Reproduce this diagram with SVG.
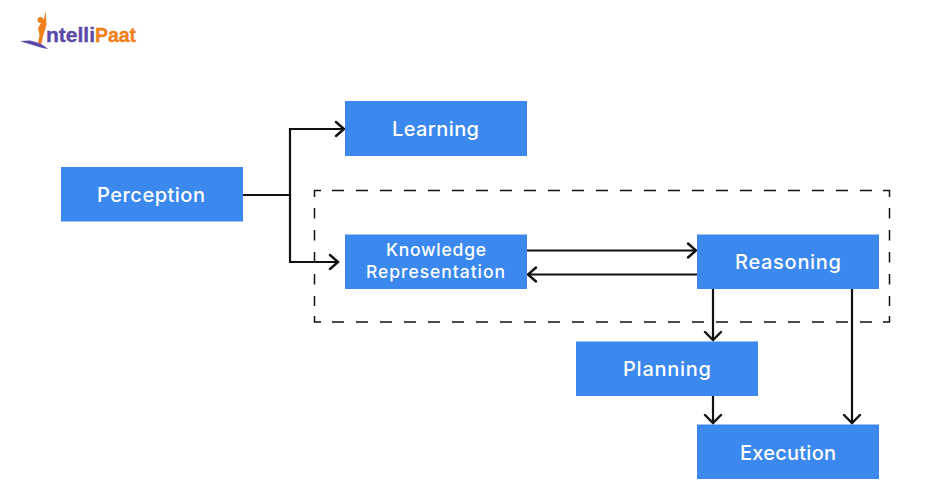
<svg xmlns="http://www.w3.org/2000/svg" width="950" height="501" viewBox="0 0 950 501">
<style>
.n{fill:#3b88ee}
.t{font-family:"Inter","Noto Sans",sans-serif;font-weight:500;fill:#fff;text-anchor:middle;font-size:20px}
.s{font-size:17.500px}
.c{fill:none;stroke:#111;stroke-width:2.200}
.h{fill:none;stroke:#111;stroke-width:2.400;stroke-linecap:round;stroke-linejoin:miter}
.d{fill:none;stroke:#111;stroke-width:1.500}
.l{font-family:"Liberation Sans",sans-serif;font-weight:700;font-size:21px}
</style>
<rect width="950" height="501" fill="#fff"/>
<g id="logo">
<path d="M45.500 11 L46.500 24 L45 30 L43 36 L41.500 44 L38 43 L39.500 35 L38 28 L41 23 L44 19Z" fill="#f08019"/>
<circle cx="40.500" cy="20" r="3" fill="#f08019"/>
<path d="M20 41 L30 40.500 C38 42 44 45 48 49 C40 48 30 44 20 41Z" fill="#5b4aa8"/>
<text x="46" y="42" class="l" fill="#5b4aa8" stroke="#5b4aa8" stroke-width=".4">ntelli</text>
<text x="95" y="42" class="l" fill="#f08019" stroke="#f08019" stroke-width=".4" textLength="41" lengthAdjust="spacingAndGlyphs">Paat</text>
</g>
<g id="connectors">
<path class="d" stroke-dasharray="12 12" d="M332 190.500H874M332 322H874"/>
<path class="d" stroke-dasharray="10.500 11.500" d="M314.500 208V306M889.500 208V306"/>
<path class="d" d="M321 190.500H314.500V197M883 190.500H889.500V197M321 322H314.500V316M883 322H889.500V316"/>
<path class="c" d="M243 195H290M290 129H343M290 262H337M290 128V263"/>
<path class="h" d="M336 122L344 129L336 136M330 255L338 262L330 269"/>
<path class="c" d="M527 250.500H695M697 274.500H529"/>
<path class="h" d="M688 243.500L696 250.500L688 257.500M536 267.500L528 274.500L536 281.500"/>
<path class="c" d="M713 289V340M713 396V423M852 289V423"/>
<path class="h" d="M705 332L713 340L721 332M705 415L713 423L721 415M844 415L852 423L860 415"/>
</g>
<g id="learning"><rect class="n" x="345" y="101" width="182" height="55"/><text class="t" x="435.500" y="136" textLength="87" lengthAdjust="spacing">Learning</text></g>
<g id="perception"><rect class="n" x="61" y="167" width="182" height="54.500"/><text class="t" x="151" y="202" textLength="108" lengthAdjust="spacing">Perception</text></g>
<g id="knowledge"><rect class="n" x="345" y="234.500" width="182" height="54.500"/><text class="t s" x="436" y="256" textLength="100" lengthAdjust="spacing">Knowledge</text><text class="t s" x="435.500" y="278" textLength="139" lengthAdjust="spacing">Representation</text></g>
<g id="reasoning"><rect class="n" x="697" y="234.500" width="182" height="54.500"/><text class="t" x="788" y="269" textLength="106" lengthAdjust="spacing">Reasoning</text></g>
<g id="planning"><rect class="n" x="576" y="341.500" width="182" height="54.500"/><text class="t" x="667" y="376" textLength="88" lengthAdjust="spacing">Planning</text></g>
<g id="execution"><rect class="n" x="697" y="424.500" width="182" height="54.500"/><text class="t" x="788" y="460" textLength="96" lengthAdjust="spacing">Execution</text></g>
</svg>
